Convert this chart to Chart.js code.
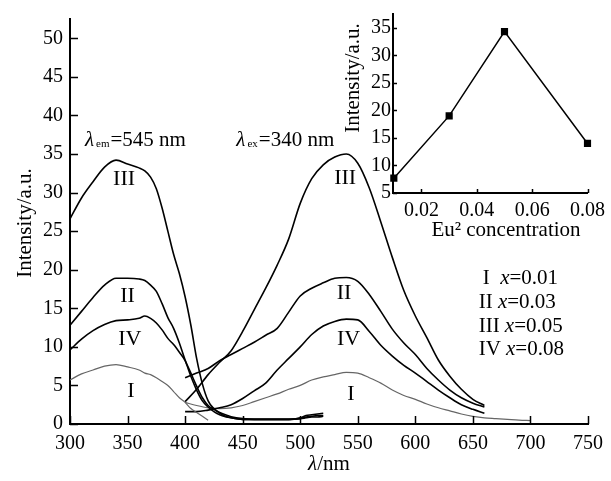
<!DOCTYPE html>
<html>
<head>
<meta charset="utf-8">
<script src="https://cdn.jsdelivr.net/npm/chart.js"></script>
<style>
  html, body { margin: 0; padding: 0; background: #fff; }
  #wrap { position: relative; width: 611px; height: 481px; }
  #main { position: absolute; left: 0; top: 0; }
  #inset { position: absolute; left: 330px; top: 0; }
</style>
</head>
<body>
<div id="wrap">
  <canvas id="main" width="611" height="481"></canvas>
  <canvas id="inset" width="281" height="245"></canvas>
</div>
<script>
const serif = "'Liberation Serif', 'Times New Roman', serif";

// excitation spectra (monitored at 545 nm)
const exWl = [300,310,320,330,340,350,360,365,370,375,380,385,390,395,400,405,410,415,420,425,430,435,440,450,460,470,480,490,500,505,510,515,520];
const exIII = [26.6,29.3,31.4,33.3,34.2,33.7,33.2,32.8,32.0,30.5,28.0,25.0,22.0,19.5,16.5,12.8,8.5,5.2,3.0,2.0,1.4,1.0,0.8,0.6,0.6,0.6,0.6,0.6,0.8,1.1,1.2,1.3,1.4];
const exII = [12.8,14.6,16.4,18.0,18.9,18.9,18.8,18.6,18.0,17.2,15.6,13.8,12.4,10.5,8.3,6.6,4.9,3.4,2.4,1.9,1.5,1.2,0.95,0.7,0.6,0.6,0.6,0.6,0.7,0.9,1.0,1.1,1.1];
const exIV = [9.6,11.0,12.1,12.9,13.4,13.5,13.7,14.0,13.7,13.1,12.2,11.1,10.3,9.3,8.2,6.2,4.4,3.0,2.2,1.6,1.2,0.95,0.8,0.6,0.6,0.6,0.6,0.6,0.7,0.8,0.9,0.9,1.0];
const exI = [5.7,6.5,7.0,7.5,7.7,7.4,7.0,6.6,6.4,6.0,5.5,5.0,4.2,3.4,2.8,2.0,1.5,1.0,0.5];

// emission spectra (excited at 340 nm)
const emWl = [400,410,420,430,440,450,460,470,480,490,500,510,520,530,540,550,560,570,580,590,600,610,620,630,640,650,660];
const emIII = [2.9,4.5,6.4,8.0,9.5,12.0,14.8,17.6,20.6,24.0,28.6,31.8,33.6,34.6,35.0,33.8,30.6,26.2,21.6,17.3,14.0,11.2,8.3,6.2,4.5,3.2,2.4];
const emII = [6.0,6.6,7.2,8.2,9.0,9.8,10.6,11.5,12.4,14.5,16.6,17.6,18.3,18.9,19.0,18.5,16.8,14.6,12.3,10.5,9.0,7.2,5.7,4.4,3.4,2.7,2.2];
const emIV = [1.6,1.6,1.8,2.1,2.5,3.3,4.3,5.3,7.0,8.5,10.0,11.6,12.7,13.3,13.6,13.5,12.0,10.2,8.8,7.6,6.6,5.5,4.4,3.4,2.5,1.9,1.4];
const emIWl = [400,410,420,430,440,450,460,470,480,490,500,510,520,530,540,550,560,570,580,590,600,610,620,630,640,650,660,670,680,690,700];
const emI = [2.8,2.4,2.1,2.0,2.1,2.4,2.9,3.4,3.9,4.5,5.0,5.7,6.1,6.4,6.7,6.6,6.0,5.3,4.4,3.7,3.2,2.6,2.1,1.7,1.3,1.0,0.8,0.7,0.6,0.5,0.45];

const xTicks = [300,350,400,450,500,550,600,650,700,750];
const yTicks = [0,5,10,15,20,25,30,35,40,45,50];

// curve labels (I, II, III, IV)
const romans = ['I','II','III','IV'];
const exLabX = [353,350,347,352], exLabY = [4.3,16.6,31.7,11.0];
const emLabX = [544,538,539,542], emLabY = [3.8,17.0,31.9,11.0];

// inset: peak intensity vs Eu concentration
const conc = [0.01,0.03,0.05,0.08];
const peak = [7.7,19.0,34.3,14.0];
const insetXTicks = [0.02,0.04,0.06,0.08];
const insetYTicks = [5,10,15,20,25,30,35];

function pts(xs, ys) { return ys.map((y, i) => ({x: xs[i], y: y})); }

function innerTicks(chart, len) {
  const ctx = chart.ctx, a = chart.chartArea, sx = chart.scales.x, sy = chart.scales.y;
  ctx.save();
  ctx.strokeStyle = '#000';
  ctx.lineWidth = 1.5;
  ctx.beginPath();
  sx.ticks.forEach(t => {
    const px = Math.round(sx.getPixelForValue(t.value)) + 0.5;
    ctx.moveTo(px, a.bottom); ctx.lineTo(px, a.bottom - len);
  });
  sy.ticks.forEach(t => {
    const py = Math.round(sy.getPixelForValue(t.value)) + 0.5;
    ctx.moveTo(a.left, py); ctx.lineTo(a.left + len, py);
  });
  ctx.stroke();
  ctx.restore();
}

const mainDecor = {
  id: 'mainDecor',
  afterDraw(chart) {
    const ctx = chart.ctx, a = chart.chartArea, sx = chart.scales.x, sy = chart.scales.y;
    innerTicks(chart, 8);
    ctx.save();
    ctx.fillStyle = '#000';
    // curve numerals
    ctx.font = '22px ' + serif;
    ctx.textAlign = 'center';
    ctx.textBaseline = 'middle';
    romans.forEach((r, i) => {
      ctx.fillText(r, sx.getPixelForValue(exLabX[i]), sy.getPixelForValue(exLabY[i]));
      ctx.fillText(r, sx.getPixelForValue(emLabX[i]), sy.getPixelForValue(emLabY[i]));
    });
    // lambda annotations
    ctx.textAlign = 'left';
    ctx.textBaseline = 'alphabetic';
    function lam(nm, val, sub, rest) {
      let x = sx.getPixelForValue(nm);
      const y = sy.getPixelForValue(val);
      ctx.font = 'italic 21px ' + serif;
      ctx.fillText('λ', x, y);
      x += ctx.measureText('λ').width + 2;
      ctx.font = '11px ' + serif;
      ctx.fillText(sub, x, y + 1);
      x += ctx.measureText(sub).width + 1;
      ctx.font = '21px ' + serif;
      ctx.fillText(rest, x, y);
    }
    lam(313, 36.0, 'em', '=545 nm');
    lam(444.5, 36.0, 'ex', '=340 nm');
    // composition list
    const legY = [18.8, 15.8, 12.7, 9.7];
    romans.forEach((r, i) => {
      let x = sx.getPixelForValue(655);
      const y = sy.getPixelForValue(legY[i]);
      ctx.textBaseline = 'middle';
      ctx.font = '21px ' + serif;
      const head = r + (i === 0 ? '  ' : ' ');
      if (i === 0) x += 4;
      ctx.fillText(head, x, y);
      x += ctx.measureText(head).width;
      ctx.font = 'italic 21px ' + serif;
      ctx.fillText('x', x, y);
      x += ctx.measureText('x').width;
      ctx.font = '21px ' + serif;
      ctx.fillText('=' + conc[i].toFixed(2), x, y);
    });
    // axis titles
    ctx.textBaseline = 'middle';
    ctx.font = 'italic 21px ' + serif;
    const w1 = ctx.measureText('λ').width;
    ctx.font = '21px ' + serif;
    const w2 = ctx.measureText('/nm').width;
    let tx = (a.left + a.right) / 2 - (w1 + w2) / 2;
    ctx.font = 'italic 21px ' + serif;
    ctx.fillText('λ', tx, 464);
    ctx.font = '21px ' + serif;
    ctx.fillText('/nm', tx + w1, 464);
    ctx.translate(25, 223);
    ctx.rotate(-Math.PI / 2);
    ctx.textAlign = 'center';
    ctx.fillText('Intensity/a.u.', 0, 0);
    ctx.restore();
  }
};

const tickFont = { family: serif, size: 20 };

new Chart(document.getElementById('main'), {
  type: 'line',
  data: {
    datasets: [
      { label: 'ex III', data: pts(exWl, exIII), borderColor: '#000' },
      { label: 'ex II', data: pts(exWl, exII), borderColor: '#000' },
      { label: 'ex IV', data: pts(exWl, exIV), borderColor: '#000' },
      { label: 'ex I', data: pts(exWl, exI), borderColor: '#666', borderWidth: 1.2 },
      { label: 'em III', data: pts(emWl, emIII), borderColor: '#000' },
      { label: 'em II', data: pts(emWl, emII), borderColor: '#000' },
      { label: 'em IV', data: pts(emWl, emIV), borderColor: '#000' },
      { label: 'em I', data: pts(emIWl, emI), borderColor: '#666', borderWidth: 1.2 }
    ]
  },
  options: {
    responsive: false,
    animation: false,
    layout: { padding: { left: 0, right: 18, top: 7, bottom: 0 } },
    plugins: { legend: { display: false }, tooltip: { enabled: false } },
    elements: {
      point: { radius: 0 },
      line: { borderWidth: 1.6, cubicInterpolationMode: 'monotone' }
    },
    scales: {
      x: {
        type: 'linear', min: 300, max: 750,
        afterBuildTicks: s => { s.ticks = xTicks.map(v => ({ value: v })); },
        afterFit: s => { s.height = 57; },
        border: { color: '#000', width: 2 },
        grid: { display: false, drawTicks: false },
        ticks: { color: '#000', font: tickFont, padding: 8, maxRotation: 0 }
      },
      y: {
        type: 'linear', min: 0, max: 52.5,
        afterBuildTicks: s => { s.ticks = yTicks.map(v => ({ value: v })); },
        afterFit: s => { s.width = 70; },
        border: { color: '#000', width: 2 },
        grid: { display: false, drawTicks: false },
        ticks: { color: '#000', font: tickFont, padding: 7 }
      }
    }
  },
  plugins: [mainDecor]
});

const insetDecor = {
  id: 'insetDecor',
  afterDraw(chart) {
    const ctx = chart.ctx;
    innerTicks(chart, 4);
    ctx.save();
    ctx.fillStyle = '#000';
    ctx.font = '21px ' + serif;
    ctx.textAlign = 'center';
    ctx.textBaseline = 'middle';
    ctx.fillText('Eu² concentration', 176, 230);
    ctx.translate(23, 78);
    ctx.rotate(-Math.PI / 2);
    ctx.fillText('Intensity/a.u.', 0, 0);
    ctx.restore();
  }
};

new Chart(document.getElementById('inset'), {
  type: 'line',
  data: {
    datasets: [{
      data: pts(conc, peak),
      borderColor: '#000', borderWidth: 1.5,
      pointStyle: 'rect', pointRadius: 4,
      pointBackgroundColor: '#000', pointBorderColor: '#000',
      clip: false, tension: 0
    }]
  },
  options: {
    responsive: false,
    animation: false,
    layout: { padding: { left: 0, right: 22, top: 13, bottom: 0 } },
    plugins: { legend: { display: false }, tooltip: { enabled: false } },
    scales: {
      x: {
        type: 'linear', min: 0.0097, max: 0.08,
        afterBuildTicks: s => { s.ticks = insetXTicks.map(v => ({ value: v })); },
        afterFit: s => { s.height = 52; },
        border: { color: '#000', width: 2 },
        grid: { display: false, drawTicks: false },
        ticks: { color: '#000', font: tickFont, padding: 6, maxRotation: 0, callback: v => v.toFixed(2) }
      },
      y: {
        type: 'linear', min: 5, max: 37.5,
        afterBuildTicks: s => { s.ticks = insetYTicks.map(v => ({ value: v })); },
        afterFit: s => { s.width = 63; },
        border: { color: '#000', width: 2 },
        grid: { display: false, drawTicks: false },
        ticks: { color: '#000', font: tickFont, padding: 2 }
      }
    }
  },
  plugins: [insetDecor]
});
</script>
</body>
</html>
